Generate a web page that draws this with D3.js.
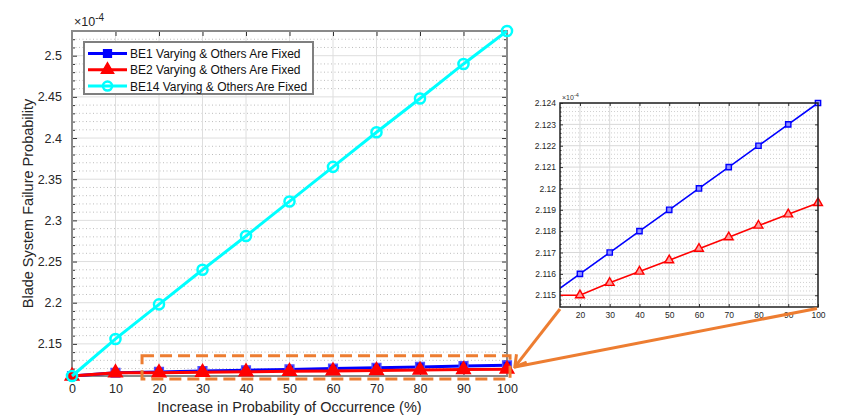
<!DOCTYPE html>
<html>
<head>
<meta charset="utf-8">
<script src="https://cdn.jsdelivr.net/npm/d3@7"></script>
<style>
  body { margin: 0; background: #fff; }
  svg { font-family: "Liberation Sans", Arial, sans-serif; display: block; }
</style>
</head>
<body>
<svg id="chart"></svg>
<script>
const width = 851;
const height = 420;

// data (values in units of 1e-4)
const pct = [0, 10, 20, 30, 40, 50, 60, 70, 80, 90, 100];
const be1 = [2.111, 2.115, 2.116, 2.117, 2.118, 2.119, 2.120, 2.121, 2.122, 2.123, 2.124];
const be2 = [2.111, 2.115, 2.115, 2.11558, 2.11611, 2.11664, 2.11718, 2.11772, 2.11826, 2.11879, 2.11932];
const be14 = [2.111, 2.156, 2.198, 2.240, 2.281, 2.323, 2.365, 2.407, 2.448, 2.490, 2.530];
const seriesNames = [
  "BE1 Varying & Others Are Fixed",
  "BE2 Varying & Others Are Fixed",
  "BE14 Varying & Others Are Fixed"
];
const seriesColors = ["#0000ff", "#ff0000", "#00ffff"];

const xTicks = [0, 10, 20, 30, 40, 50, 60, 70, 80, 90, 100];
const yTicks = [2.15, 2.2, 2.25, 2.3, 2.35, 2.4, 2.45, 2.5];
const yMinorTicks = [2.12, 2.13, 2.14, 2.16, 2.17, 2.18, 2.19, 2.21, 2.22, 2.23, 2.24,
  2.26, 2.27, 2.28, 2.29, 2.31, 2.32, 2.33, 2.34, 2.36, 2.37, 2.38, 2.39,
  2.41, 2.42, 2.43, 2.44, 2.46, 2.47, 2.48, 2.49, 2.51, 2.52];
const insetXTicks = [20, 30, 40, 50, 60, 70, 80, 90, 100];
const insetYTicks = [2.115, 2.116, 2.117, 2.118, 2.119, 2.12, 2.121, 2.122, 2.123, 2.124];
const insetYMinorTicks = d3.range(2.1146, 2.1240, 0.0002).map(v => +v.toFixed(4))
  .filter(v => !insetYTicks.includes(v));
const insetXDomain = [13.3, 100];
const insetYDomain = [2.11445, 2.124];
// dashed box on the main chart (data units) and the point the arrows meet
const zoomBox = { x0: 16.1, x1: 100.7, y0: 2.1074, y1: 2.1357 };
const arrowTip = { x: 101.8, y: 2.1220 };

const fmt = d => String(+d.toFixed(3));
const orange = "#ed7d31";

const svg = d3.select("#chart")
  .attr("width", width)
  .attr("height", height);

svg.append("rect").attr("width", width).attr("height", height).attr("fill", "#fff");

const symbols = [d3.symbolSquare, d3.symbolTriangle, d3.symbolCircle];
const series = [be1, be2, be14].map((vals, i) => ({
  name: seriesNames[i],
  color: seriesColors[i],
  symbol: symbols[i],
  values: vals.map((v, j) => ({ x: pct[j], y: v }))
}));

// ---------- main chart ----------
const m = { left: 72, right: 507, top: 31, bottom: 376 };
const x = d3.scaleLinear().domain([0, 100]).range([m.left, m.right]);
const y = d3.scaleLinear()
  .domain(d3.extent([...be1, ...be2, ...be14]))
  .range([m.bottom, m.top]);

const grid = svg.append("g");
grid.selectAll(".minor")
  .data(yMinorTicks).enter().append("line")
  .attr("x1", m.left).attr("x2", m.right)
  .attr("y1", d => y(d)).attr("y2", d => y(d))
  .attr("stroke", "#bdbdbd").attr("stroke-width", 1)
  .attr("stroke-dasharray", "1,2.5");
grid.selectAll(".vgrid")
  .data(xTicks).enter().append("line")
  .attr("x1", d => x(d)).attr("x2", d => x(d))
  .attr("y1", m.top).attr("y2", m.bottom)
  .attr("stroke", "#dedede").attr("stroke-width", 1);
grid.selectAll(".hgrid")
  .data(yTicks).enter().append("line")
  .attr("x1", m.left).attr("x2", m.right)
  .attr("y1", d => y(d)).attr("y2", d => y(d))
  .attr("stroke", "#dedede").attr("stroke-width", 1);

function styleAxis(g, size) {
  g.select(".domain").remove();
  g.selectAll(".tick line").attr("stroke", "#333");
  g.selectAll("text").attr("fill", "#262626").attr("font-size", size);
}

svg.append("g")
  .attr("transform", `translate(0,${m.bottom})`)
  .call(d3.axisBottom(x).tickValues(xTicks).tickSize(-5).tickPadding(8.5).tickFormat(fmt))
  .call(g => styleAxis(g, 12.5));
svg.append("g")
  .attr("transform", `translate(0,${m.top})`)
  .call(d3.axisTop(x).tickValues(xTicks).tickSize(-5).tickFormat(""))
  .call(g => styleAxis(g, 12.5));
svg.append("g")
  .attr("transform", `translate(${m.left},0)`)
  .call(d3.axisLeft(y).tickValues(yTicks).tickSize(-5).tickPadding(10).tickFormat(fmt))
  .call(g => styleAxis(g, 12.5));
svg.append("g")
  .attr("transform", `translate(${m.left},0)`)
  .call(d3.axisLeft(y).tickValues(yMinorTicks).tickSize(-3).tickFormat(""))
  .call(g => styleAxis(g, 12.5));
svg.append("g")
  .attr("transform", `translate(${m.right},0)`)
  .call(d3.axisRight(y).tickValues(yTicks).tickSize(-5).tickFormat(""))
  .call(g => styleAxis(g, 12.5));
svg.append("g")
  .attr("transform", `translate(${m.right},0)`)
  .call(d3.axisRight(y).tickValues(yMinorTicks).tickSize(-3).tickFormat(""))
  .call(g => styleAxis(g, 12.5));

svg.append("rect")
  .attr("x", m.left).attr("y", m.top)
  .attr("width", m.right - m.left).attr("height", m.bottom - m.top)
  .attr("fill", "none").attr("stroke", "#8a8a8a").attr("stroke-width", 2);

const line = d3.line().x(d => x(d.x)).y(d => y(d.y));
const sizes = [75, 80, 80];

series.forEach((s, i) => {
  const g = svg.append("g");
  g.append("path")
    .datum(s.values)
    .attr("d", line)
    .attr("fill", "none")
    .attr("stroke", s.color)
    .attr("stroke-width", 3);
  g.selectAll("path.mk")
    .data(s.values).enter().append("path")
    .attr("class", "mk")
    .attr("transform", d => `translate(${x(d.x)},${y(d.y)})`)
    .attr("d", d3.symbol().type(s.symbol).size(sizes[i]))
    .attr("fill", i === 2 ? "none" : s.color)
    .attr("stroke", i === 0 ? "#5050ff" : s.color)
    .attr("stroke-width", i === 2 ? 2.5 : 1.5);
});

// exponent label
const expo = svg.append("text")
  .attr("x", m.left + 2).attr("y", m.top - 5)
  .attr("font-size", 12.5).attr("fill", "#262626");
expo.append("tspan").text("\u00d710");
expo.append("tspan").attr("dy", -5).attr("font-size", 10).text("-4");

// axis titles
svg.append("text")
  .attr("x", (m.left + m.right) / 2).attr("y", 412)
  .attr("text-anchor", "middle").attr("font-size", 14.5).attr("fill", "#262626")
  .text("Increase in Probability of Occurrence (%)");
svg.append("text")
  .attr("transform", `translate(33,${(m.top + m.bottom) / 2}) rotate(-90)`)
  .attr("text-anchor", "middle").attr("font-size", 14.5).attr("fill", "#262626")
  .text("Blade System Failure Probability");

// legend
const legend = svg.append("g").attr("transform", "translate(84,42)");
legend.append("rect")
  .attr("width", 229).attr("height", 52)
  .attr("fill", "#fff").attr("stroke", "#7f7f7f").attr("stroke-width", 2);
series.forEach((s, i) => {
  const row = legend.append("g").attr("transform", `translate(0,${11.5 + i * 16.3})`);
  row.append("line")
    .attr("x1", 4).attr("x2", 43)
    .attr("stroke", s.color).attr("stroke-width", 3);
  row.append("path")
    .attr("transform", "translate(23.5,0)")
    .attr("d", d3.symbol().type(s.symbol).size(sizes[i] * 0.8))
    .attr("fill", i === 2 ? "none" : s.color)
    .attr("stroke", s.color).attr("stroke-width", i === 2 ? 2.5 : 1.5);
  row.append("text")
    .attr("x", 46).attr("y", 4.5)
    .attr("font-size", 12).attr("fill", "#111")
    .text(s.name);
});

// dashed zoom box
svg.append("rect")
  .attr("x", x(zoomBox.x0)).attr("y", y(zoomBox.y1))
  .attr("width", x(zoomBox.x1) - x(zoomBox.x0))
  .attr("height", y(zoomBox.y0) - y(zoomBox.y1))
  .attr("fill", "none").attr("stroke", orange)
  .attr("stroke-width", 3).attr("stroke-dasharray", "12,6");

// ---------- inset ----------
const im = { left: 560, right: 818, top: 103, bottom: 307 };
const ix = d3.scaleLinear().domain(insetXDomain).range([im.left, im.right]);
const iy = d3.scaleLinear().domain(insetYDomain).range([im.bottom, im.top]);

const inset = svg.append("g");
inset.append("rect")
  .attr("x", im.left).attr("y", im.top)
  .attr("width", im.right - im.left).attr("height", im.bottom - im.top)
  .attr("fill", "#fff");
inset.selectAll(".iminor")
  .data(insetYMinorTicks).enter().append("line")
  .attr("x1", im.left).attr("x2", im.right)
  .attr("y1", d => iy(d)).attr("y2", d => iy(d))
  .attr("stroke", "#d0d0d0").attr("stroke-dasharray", "1,2");
inset.selectAll(".ivgrid")
  .data(insetXTicks).enter().append("line")
  .attr("x1", d => ix(d)).attr("x2", d => ix(d))
  .attr("y1", im.top).attr("y2", im.bottom)
  .attr("stroke", "#d8d8d8");
inset.selectAll(".ihgrid")
  .data(insetYTicks).enter().append("line")
  .attr("x1", im.left).attr("x2", im.right)
  .attr("y1", d => iy(d)).attr("y2", d => iy(d))
  .attr("stroke", "#d8d8d8");

inset.append("g")
  .attr("transform", `translate(0,${im.bottom})`)
  .call(d3.axisBottom(ix).tickValues(insetXTicks).tickSize(-3).tickPadding(5).tickFormat(fmt))
  .call(g => styleAxis(g, 8.5));
inset.append("g")
  .attr("transform", `translate(0,${im.top})`)
  .call(d3.axisTop(ix).tickValues(insetXTicks).tickSize(-3).tickFormat(""))
  .call(g => styleAxis(g, 8.5));
inset.append("g")
  .attr("transform", `translate(${im.left},0)`)
  .call(d3.axisLeft(iy).tickValues(insetYTicks).tickSize(-3).tickPadding(4).tickFormat(fmt))
  .call(g => styleAxis(g, 8.5));
inset.append("g")
  .attr("transform", `translate(${im.left},0)`)
  .call(d3.axisLeft(iy).tickValues(insetYMinorTicks).tickSize(-1.5).tickFormat(""))
  .call(g => styleAxis(g, 8.5));
inset.append("g")
  .attr("transform", `translate(${im.right},0)`)
  .call(d3.axisRight(iy).tickValues(insetYTicks).tickSize(-3).tickFormat(""))
  .call(g => styleAxis(g, 8.5));

svg.append("clipPath").attr("id", "insetClip")
  .append("rect")
  .attr("x", im.left).attr("y", im.top - 6)
  .attr("width", im.right - im.left + 6).attr("height", im.bottom - im.top + 6);

const iline = d3.line().x(d => ix(d.x)).y(d => iy(d.y));
const insetPlot = inset.append("g").attr("clip-path", "url(#insetClip)");
series.slice(0, 2).forEach((s, i) => {
  insetPlot.append("path")
    .datum(s.values)
    .attr("d", iline)
    .attr("fill", "none")
    .attr("stroke", s.color)
    .attr("stroke-width", 1.6);
  insetPlot.selectAll(null)
    .data(s.values.filter(d => d.x >= 20)).enter().append("path")
    .attr("transform", d => `translate(${ix(d.x)},${iy(d.y)})`)
    .attr("d", d3.symbol().type(s.symbol).size(i === 0 ? 28 : 34))
    .attr("fill", i === 0 ? "#8c8cff" : "#ff9a9a")
    .attr("stroke", s.color).attr("stroke-width", 1.4);
});

inset.append("rect")
  .attr("x", im.left).attr("y", im.top)
  .attr("width", im.right - im.left).attr("height", im.bottom - im.top)
  .attr("fill", "none").attr("stroke", "#222").attr("stroke-width", 1.5);

const iexpo = inset.append("text")
  .attr("x", im.left + 2).attr("y", im.top - 3)
  .attr("font-size", 7).attr("fill", "#333");
iexpo.append("tspan").text("\u00d710");
iexpo.append("tspan").attr("dy", -3).attr("font-size", 5.5).text("-4");

// ---------- connector arrows ----------
const defs = svg.append("defs");
defs.append("marker")
  .attr("id", "vhead")
  .attr("viewBox", "-12 -8 14 16")
  .attr("refX", 0).attr("refY", 0)
  .attr("markerWidth", 14).attr("markerHeight", 16)
  .attr("markerUnits", "userSpaceOnUse")
  .attr("orient", "auto")
  .append("path")
  .attr("d", "M-11,-6.5 L0,0 L-11,6.5")
  .attr("fill", "none").attr("stroke", orange).attr("stroke-width", 3);

const tip = [x(arrowTip.x), y(arrowTip.y)];
svg.append("line")
  .attr("x1", ix(insetXDomain[1]) - 1).attr("y1", iy(insetYDomain[0]) + 1.5)
  .attr("x2", tip[0]).attr("y2", tip[1])
  .attr("stroke", orange).attr("stroke-width", 3);
svg.append("line")
  .attr("x1", ix(insetXDomain[0])).attr("y1", iy(insetYDomain[0]) + 2)
  .attr("x2", tip[0]).attr("y2", tip[1])
  .attr("stroke", orange).attr("stroke-width", 3)
  .attr("marker-end", "url(#vhead)");
</script>
</body>
</html>
